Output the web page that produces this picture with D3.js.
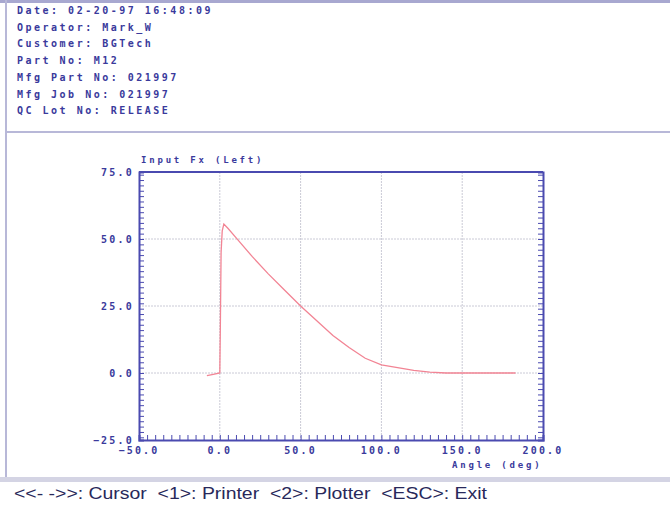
<!DOCTYPE html>
<html>
<head>
<meta charset="utf-8">
<script src="https://cdn.jsdelivr.net/npm/d3@7"></script>
<style>
  body { margin: 0; background: #fff; }
</style>
</head>
<body>
<div id="chart"></div>
<script>
// header lines of the test report
const headerLines = [
  "Date: 02-20-97 16:48:09",
  "Operator: Mark_W",
  "Customer: BGTech",
  "Part No: M12",
  "Mfg Part No: 021997",
  "Mfg Job No: 021997",
  "QC Lot No: RELEASE"
];

// curve values, angle (deg) vs input Fx
const angles = [-8, -4, 0, 0.3, 0.8, 1.5, 2.5, 5, 10, 20, 30, 40, 50, 60, 70, 80, 90, 100, 110, 120, 130, 140, 150, 160, 170, 183];
const forces = [-1, -0.5, 0, 15, 45, 53, 55.6, 54, 50.5, 43.5, 37, 31, 25, 19.5, 14, 9.5, 5.5, 3, 2, 1, 0.3, 0, 0, 0, 0, 0];

const xTicks = [-50, 0, 50, 100, 150, 200];
const yTicks = [-25, 0, 25, 50, 75];

const footerText = "<<- ->>: Cursor  <1>: Printer  <2>: Plotter  <ESC>: Exit";

let width = 670, height = 506;
let margin = { top: 172, bottom: 66, left: 139, right: 127 };

const ink = '#3a3a9c';
const axisCol = '#4a4ab0';
const frameCol = '#b8b8d8';

let svg = d3.select('#chart')
  .append('svg')
  .attr('width', width)
  .attr('height', height);

// screen frame
svg.append('rect')
  .attr('x', 0).attr('y', 0).attr('width', width).attr('height', 3)
  .attr('fill', '#a8a8d0');
svg.append('line')
  .attr('x1', 6).attr('x2', 6).attr('y1', 0).attr('y2', 478)
  .attr('stroke', frameCol).attr('stroke-width', 2);
svg.append('line')
  .attr('x1', 6).attr('x2', width).attr('y1', 132).attr('y2', 132)
  .attr('stroke', frameCol).attr('stroke-width', 2);
svg.append('rect')
  .attr('x', 0).attr('y', 477).attr('width', width).attr('height', 5)
  .attr('fill', '#d4d4e4');

svg.selectAll('.hdr')
  .data(headerLines)
  .enter()
  .append('text')
  .attr('class', 'hdr')
  .attr('x', 17)
  .attr('y', (d, i) => 14 + i * 16.7)
  .attr('fill', ink)
  .style('font-family', 'DejaVu Sans Mono')
  .style('font-weight', 'bold')
  .style('font-size', '10px')
  .style('letter-spacing', '2.5px')
  .text(d => d);

let xscale = d3.scaleLinear()
  .domain([-50, 200])
  .range([margin.left, width - margin.right]);

let yscale = d3.scaleLinear()
  .domain([-25, 75])
  .range([440, margin.top]);

// grid
svg.append('g')
  .selectAll('line')
  .data(xTicks.slice(1, -1))
  .enter()
  .append('line')
  .attr('x1', d => xscale(d)).attr('x2', d => xscale(d))
  .attr('y1', yscale(75)).attr('y2', yscale(-25))
  .attr('stroke', '#cacad6').attr('stroke-dasharray', '2,1');

svg.append('g')
  .selectAll('line')
  .data(yTicks.slice(1, -1))
  .enter()
  .append('line')
  .attr('x1', xscale(-50)).attr('x2', xscale(200))
  .attr('y1', d => yscale(d)).attr('y2', d => yscale(d))
  .attr('stroke', '#cacad6').attr('stroke-dasharray', '2,1');

// axes with inward minor ticks
svg.append('g')
  .attr('transform', `translate(${margin.left},0)`)
  .call(d3.axisRight(yscale).ticks(40).tickSize(5).tickFormat(''))
  .call(g => g.selectAll('line').attr('stroke', axisCol))
  .call(g => g.select('.domain').attr('stroke', axisCol).attr('stroke-width', 2));

svg.append('g')
  .attr('transform', `translate(${width - margin.right},0)`)
  .call(d3.axisLeft(yscale).ticks(40).tickSize(5).tickFormat(''))
  .call(g => g.selectAll('line').attr('stroke', axisCol))
  .call(g => g.select('.domain').attr('stroke', axisCol).attr('stroke-width', 2));

svg.append('g')
  .attr('transform', `translate(0,${yscale(-25)})`)
  .call(d3.axisTop(xscale).ticks(50).tickSize(5).tickFormat(''))
  .call(g => g.selectAll('line').attr('stroke', axisCol))
  .call(g => g.select('.domain').attr('stroke', axisCol).attr('stroke-width', 2));

svg.append('line')
  .attr('x1', xscale(-50)).attr('x2', xscale(200))
  .attr('y1', yscale(75)).attr('y2', yscale(75))
  .attr('stroke', axisCol).attr('stroke-width', 2);

// major tick labels
svg.append('g')
  .selectAll('text')
  .data(yTicks)
  .enter()
  .append('text')
  .attr('x', margin.left - 5)
  .attr('y', d => yscale(d) + 4)
  .attr('text-anchor', 'end')
  .attr('fill', ink)
  .style('font-family', 'DejaVu Sans Mono')
  .style('font-weight', 'bold')
  .style('font-size', '10px')
  .style('letter-spacing', '2.2px')
  .text(d => d3.format('.1f')(d));

svg.append('g')
  .selectAll('text')
  .data(xTicks)
  .enter()
  .append('text')
  .attr('x', d => xscale(d))
  .attr('y', yscale(-25) + 14)
  .attr('text-anchor', 'middle')
  .attr('fill', ink)
  .style('font-family', 'DejaVu Sans Mono')
  .style('font-weight', 'bold')
  .style('font-size', '10px')
  .style('letter-spacing', '2.2px')
  .text(d => d3.format('.1f')(d));

svg.append('text')
  .attr('x', 141)
  .attr('y', 163)
  .attr('fill', ink)
  .style('font-family', 'DejaVu Sans Mono')
  .style('font-weight', 'bold')
  .style('font-size', '9px')
  .style('letter-spacing', '2.8px')
  .text('Input Fx (Left)');

svg.append('text')
  .attr('x', 452)
  .attr('y', 468)
  .attr('fill', ink)
  .style('font-family', 'DejaVu Sans Mono')
  .style('font-weight', 'bold')
  .style('font-size', '9px')
  .style('letter-spacing', '2.8px')
  .text('Angle (deg)');

// curve
const curve = angles.map((a, i) => ({ a: a, f: forces[i] }));
const line = d3.line()
  .x(d => xscale(d.a))
  .y(d => yscale(d.f));

svg.append('path')
  .datum(curve)
  .attr('fill', 'none')
  .attr('stroke', '#f28494')
  .attr('stroke-width', 1.3)
  .attr('d', line);

svg.append('text')
  .attr('x', 14)
  .attr('y', 499)
  .attr('fill', '#28285a')
  .attr('textLength', 473)
  .attr('lengthAdjust', 'spacingAndGlyphs')
  .style('font-family', 'Liberation Sans')
  .style('font-size', '16px')
  .style('white-space', 'pre')
  .text(footerText);
</script>
</body>
</html>
